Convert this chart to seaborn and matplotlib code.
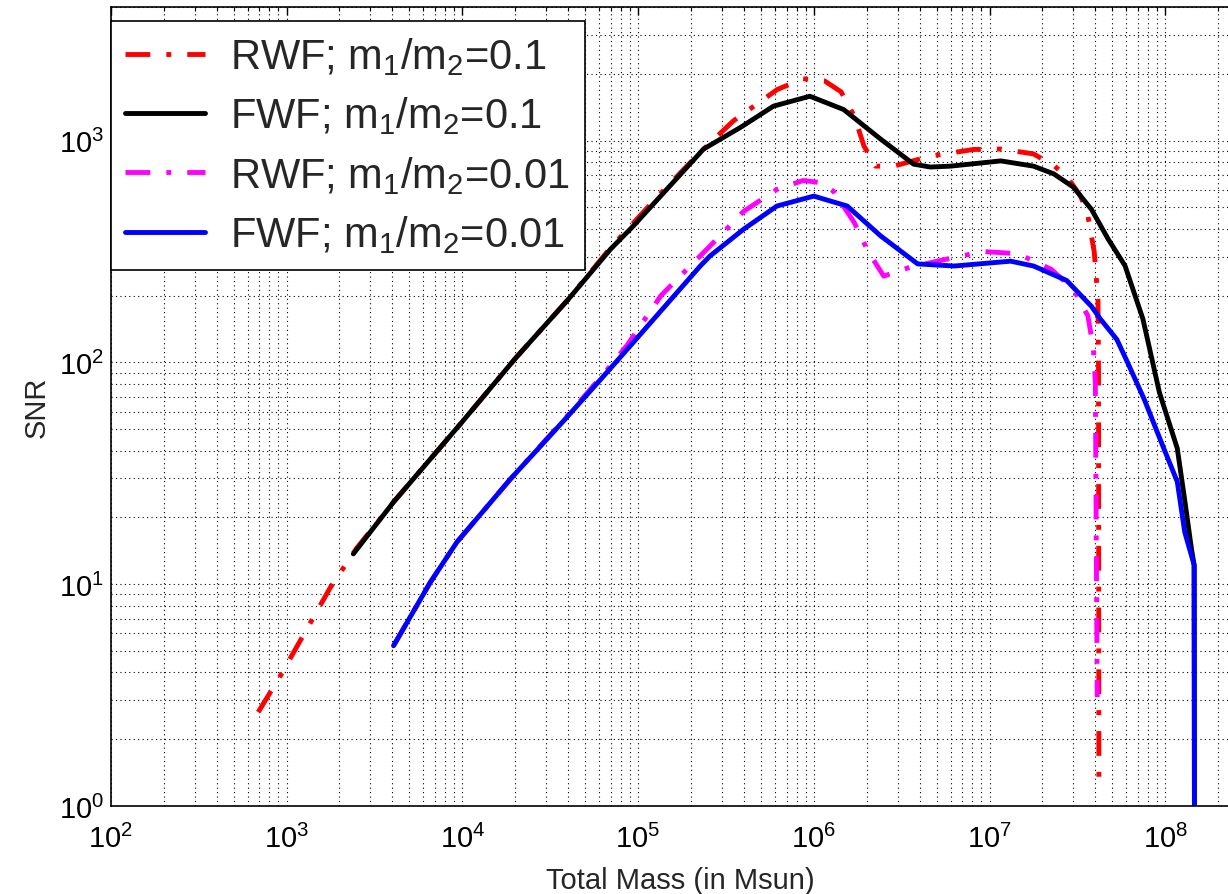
import numpy as np
import matplotlib
matplotlib.use('Agg')
import matplotlib.pyplot as plt
import seaborn as sns
from matplotlib.ticker import LogLocator, NullFormatter

# RWF, m1/m2 = 0.1
mass_rwf_01 = [690, 920, 1780, 2500, 4070, 1.0e4, 2.0e4, 4.0e4, 7.0e4, 1.35e5, 2.24e5, 3.5e5,
               6.2e5, 8.7e5, 1.15e6, 1.43e6, 1.7e6, 1.93e6, 2.24e6, 2.85e6, 4.6e6, 8.1e6,
               1.16e7, 1.78e7, 2.35e7, 2.82e7, 3.3e7, 3.63e7, 3.94e7, 4.14e7, 4.17e7, 4.19e7]
snr_rwf_01 = [2.65, 3.85, 9.7, 14.5, 23.5, 54, 104, 192, 330, 580, 880, 1230,
              1700, 1900, 1860, 1660, 1290, 946, 767, 767, 851, 912,
              916, 871, 767, 671, 562, 457, 316, 193, 95, 1.17]

# FWF, m1/m2 = 0.1
mass_fwf_01 = [2400, 4070, 1.0e4, 2.0e4, 4.0e4, 7.0e4, 9.4e4, 2.36e5, 3.85e5, 5.9e5, 9.5e5,
               1.48e6, 2.4e6, 3.7e6, 4.6e6, 6.0e6, 1.16e7, 1.78e7, 2.32e7, 3.0e7, 3.8e7,
               4.73e7, 5.9e7, 7.46e7, 9.27e7, 1.17e8, 1.29e8, 1.41e8, 1.46e8, 1.47e8]
snr_fwf_01 = [13.7, 23.5, 54, 104, 192, 325, 412, 916, 1150, 1430, 1585,
              1380, 1016, 783, 760, 767, 810, 767, 708, 617, 490,
              360, 273, 157, 73, 41, 24, 14.4, 12.2, 0.1]

# RWF, m1/m2 = 0.01
mass_rwf_001 = [4064, 6577, 9333, 1.88e4, 3.78e4, 6.4e4, 8.7e4, 1.35e5, 2.57e5, 3.98e5,
                6.17e5, 8.7e5, 1.1e6, 1.3e6, 1.7e6, 2.04e6, 2.5e6, 3.55e6, 6.9e6, 9.3e6,
                1.45e7, 2.24e7, 3.0e7, 3.63e7, 3.9e7, 4.0e7, 4.1e7]
snr_rwf_001 = [5.28, 10.2, 15.5, 29.8, 55, 89, 120, 200, 335, 479,
               603, 661, 646, 589, 427, 316, 245, 269, 302, 316,
               309, 263, 214, 162, 115, 81, 3.1]

# FWF, m1/m2 = 0.01
mass_fwf_001 = [4064, 6577, 9333, 1.88e4, 3.78e4, 6.4e4, 8.7e4, 2.27e5, 2.57e5, 3.98e5,
                6.17e5, 1.0e6, 1.55e6, 2.4e6, 3.9e6, 6.3e6, 1.32e7, 1.78e7, 2.75e7, 3.8e7,
                4.27e7, 5.3e7, 6.1e7, 7.6e7, 9.8e7, 1.17e8, 1.29e8, 1.46e8, 1.47e8]
snr_fwf_001 = [5.28, 10.2, 15.5, 29.8, 54.6, 87.1, 114.8, 273, 302, 398,
               507, 562, 507, 372, 278, 272, 286, 272, 234, 179,
               157, 127, 100, 68, 41, 29, 17.2, 12.2, 0.1]

labels = [r'RWF; m$_1$/m$_2$=0.1', r'FWF; m$_1$/m$_2$=0.1',
          r'RWF; m$_1$/m$_2$=0.01', r'FWF; m$_1$/m$_2$=0.01']
xticks = [1e2, 1e3, 1e4, 1e5, 1e6, 1e7, 1e8]
yticks = [1, 10, 100, 1000]

sns.set_style('white')
plt.rcParams['font.family'] = ['Liberation Sans', 'DejaVu Sans']
plt.rcParams['mathtext.fontset'] = 'custom'
plt.rcParams['mathtext.rm'] = 'Liberation Sans'
plt.rcParams['mathtext.it'] = 'Liberation Sans:italic'
plt.rcParams['mathtext.bf'] = 'Liberation Sans:bold'

fig = plt.figure(figsize=(12.28, 8.95), dpi=100)
# axes run past the right edge of the picture, as in the original crop
ax = fig.add_axes([0.0902, 0.0983, 0.927, 0.8927])
ax.set_xscale('log')
ax.set_yscale('log')

dashdot = (0, (5.1, 3.3, 1.0, 3.3))
series = [
    (mass_rwf_01, snr_rwf_01, 'red', dashdot, labels[0]),
    (mass_fwf_01, snr_fwf_01, 'black', '-', labels[1]),
    (mass_rwf_001, snr_rwf_001, 'magenta', dashdot, labels[2]),
    (mass_fwf_001, snr_fwf_001, 'blue', '-', labels[3]),
]
for m, s, c, ls, lab in series:
    sns.lineplot(x=m, y=s, color=c, linewidth=3.5, linestyle=ls, label=lab,
                 sort=False, estimator=None, ax=ax)

ax.set_xlim(1e2, 3e8)
ax.set_ylim(1, 4000)

ax.set_xticks(xticks)
ax.set_yticks(yticks)
ax.xaxis.set_minor_locator(LogLocator(base=10, subs=np.arange(2, 10), numticks=200))
ax.yaxis.set_minor_locator(LogLocator(base=10, subs=np.arange(2, 10), numticks=200))
ax.xaxis.set_minor_formatter(NullFormatter())
ax.yaxis.set_minor_formatter(NullFormatter())

ax.set_axisbelow(True)
ax.grid(True, which='both', color='black', linestyle=(0, (1, 3)), linewidth=0.8)

ax.tick_params(which='both', direction='in', top=True, right=True, colors='black')
ax.tick_params(which='major', length=6, width=1.0, labelsize=21)
ax.tick_params(which='minor', length=3, width=0.8)
ax.tick_params(axis='x', which='major', pad=13)
ax.tick_params(axis='y', which='major', pad=5)

for sp in ax.spines.values():
    sp.set_color('black')
    sp.set_linewidth(1.2)

ax.set_xlabel('Total Mass (in Msun)', fontsize=21, labelpad=9)
ax.set_ylabel('SNR', fontsize=21, labelpad=6)

leg = ax.legend(loc='upper left', bbox_to_anchor=(0, 0.983), borderaxespad=0,
                fontsize=30, frameon=True, fancybox=False, framealpha=1,
                edgecolor='black', borderpad=0.35, labelspacing=0.42,
                handlelength=1.92, handletextpad=0.6)
leg.get_frame().set_linewidth(1.2)

fig.savefig('out.png', dpi=100)
